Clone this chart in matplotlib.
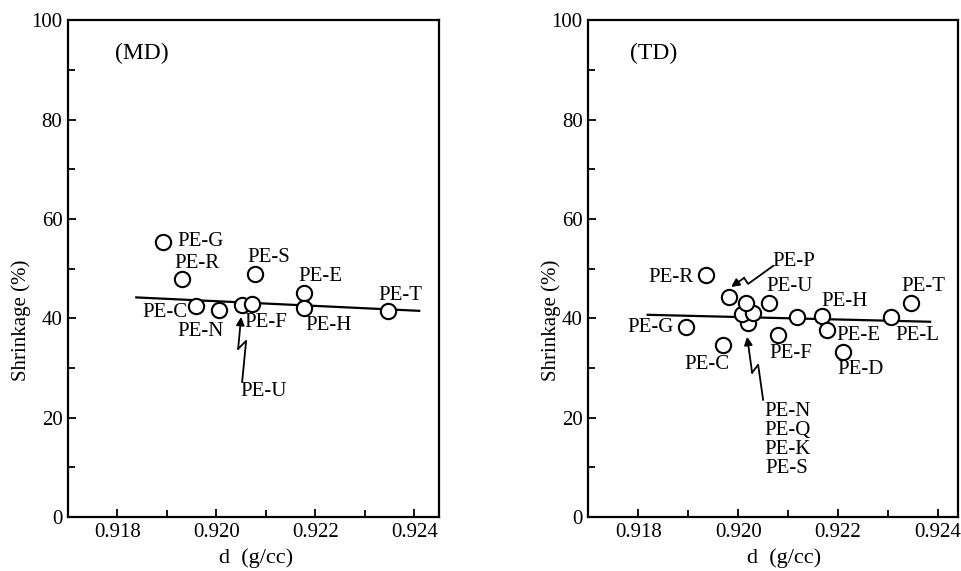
import matplotlib
matplotlib.use('Agg')
import matplotlib.pyplot as plt
import matplotlib.transforms as mtransforms
from matplotlib.ticker import MultipleLocator

plt.rcParams['font.family'] = ['Liberation Serif', 'DejaVu Serif']

# MD panel data
md_names = ['PE-G', 'PE-R', 'PE-C', 'PE-N', 'PE-U', 'PE-F', 'PE-S', 'PE-E', 'PE-H', 'PE-T']
md_d = [0.91893, 0.91931, 0.91959, 0.92005, 0.92052, 0.92072, 0.92079, 0.92178, 0.92178, 0.92346]
md_s = [55.4, 47.9, 42.5, 41.6, 42.7, 42.9, 48.9, 45.1, 42.1, 41.4]
md_fit_d = [0.91838, 0.9241]
md_fit_s = [44.2, 41.5]

# TD panel data
td_names = ['PE-R', 'PE-P', 'PE-G', 'PE-C', 'PE-N', 'PE-Q', 'PE-K', 'PE-S',
            'PE-U', 'PE-F', '', 'PE-H', 'PE-E', 'PE-D', 'PE-L', 'PE-T']
td_d = [0.91935, 0.91982, 0.91896, 0.91970, 0.92020, 0.92007, 0.92030, 0.92016,
        0.92061, 0.92080, 0.92118, 0.92167, 0.92177, 0.92210, 0.92306, 0.92346]
td_s = [48.7, 44.3, 38.2, 34.6, 39.1, 40.8, 41.1, 43.1,
        43.1, 36.6, 40.2, 40.4, 37.6, 33.3, 40.2, 43.0]
td_fit_d = [0.91819, 0.92384]
td_fit_s = [40.7, 39.3]

# label placement: offset in pixels (dx right, dy down), alignment
md_lab = {'PE-G': (14, 0, 'left'), 'PE-R': (-8, -16, 'left'), 'PE-C': (-9, 7, 'right'),
          'PE-N': (-18, 21, 'center'), 'PE-U': (21, 87, 'center'), 'PE-F': (-8, 19, 'left'),
          'PE-S': (-8, -17, 'left'), 'PE-E': (-6, -16, 'left'), 'PE-H': (1, 18, 'left'),
          'PE-T': (-9, -16, 'left')}
td_lab = {'PE-R': (-12, 2, 'right'), 'PE-P': (43, -35, 'left'), 'PE-G': (-12, 0, 'right'),
          'PE-C': (6, 19, 'right'), 'PE-N': (39, 117, 'center'), 'PE-U': (-2, -16, 'left'),
          'PE-F': (-9, 18, 'left'), 'PE-H': (0, -15, 'left'), 'PE-E': (10, 5, 'left'),
          'PE-D': (-6, 18, 'left'), 'PE-L': (4, 18, 'left'), 'PE-T': (-10, -17, 'left')}
td_stack = 'PE-N\nPE-Q\nPE-K\nPE-S'

fig = plt.figure(figsize=(9.61, 5.71), dpi=100)
ax1 = fig.add_axes([0.0708, 0.0946, 0.386, 0.870])
ax2 = fig.add_axes([0.612, 0.0946, 0.385, 0.870])


def bolt(ax, xd, yd, path):
    # zig-zag pointer drawn in pixel offsets around a data point
    tr = fig.dpi_scale_trans + mtransforms.ScaledTranslation(xd, yd, ax.transData)
    xs = [p[0] / 100 for p in path]
    ys = [-p[1] / 100 for p in path]
    ax.plot(xs[:-1], ys[:-1], color='black', lw=1.3, transform=tr, zorder=4)
    ax.annotate('', xy=(xs[-1], ys[-1]), xytext=(xs[-2], ys[-2]),
                xycoords=tr, textcoords=tr,
                arrowprops=dict(arrowstyle='-|>', color='black', lw=1.3,
                                mutation_scale=12, shrinkA=0, shrinkB=0))


def panel(ax, d, s, fit_d, fit_s, names, labs, tag, tag_x, xmax):
    ax.plot(fit_d, fit_s, color='black', lw=1.6, zorder=2)
    ax.plot(d, s, 'o', ms=11, mfc='white', mec='black', mew=1.5, zorder=3)
    for n, x, y in zip(names, d, s):
        if n not in labs:
            continue
        dx, dy, ha = labs[n]
        txt = td_stack if (labs is td_lab and n == 'PE-N') else n
        ax.annotate(txt, (x, y), xytext=(dx * 0.72, -dy * 0.72), textcoords='offset points',
                    ha=ha, va='center', fontsize=15, linespacing=1.0, zorder=5)
    ax.set_xlim(0.917, xmax)
    ax.set_ylim(0, 100)
    ax.xaxis.set_major_locator(MultipleLocator(0.002))
    ax.xaxis.set_minor_locator(MultipleLocator(0.001))
    ax.yaxis.set_major_locator(MultipleLocator(20))
    ax.yaxis.set_minor_locator(MultipleLocator(10))
    ax.set_xticks([0.918, 0.920, 0.922, 0.924])
    ax.set_xticklabels(['0.918', '0.920', '0.922', '0.924'])
    ax.tick_params(which='both', direction='in', top=False, right=False,
                   labelsize=15, width=1.3)
    ax.tick_params(which='major', length=6, pad=4)
    ax.tick_params(which='minor', length=5)
    for sp in ax.spines.values():
        sp.set_linewidth(1.6)
    ax.text(tag_x, 0.934, tag, transform=ax.transAxes, fontsize=17, va='center')
    ax.set_xlabel('d  (g/cc)', fontsize=16)
    ax.set_ylabel('Shrinkage (%)', fontsize=15)


panel(ax1, md_d, md_s, md_fit_d, md_fit_s, md_names, md_lab, '(MD)', 0.127, 0.9245)
panel(ax2, td_d, td_s, td_fit_d, td_fit_s, td_names, td_lab, '(TD)', 0.114, 0.9244)

ax1.xaxis.set_label_coords(0.508, -0.062)
ax2.xaxis.set_label_coords(0.53, -0.062)
ax1.yaxis.set_label_coords(-0.099, 0.395)
ax2.yaxis.set_label_coords(-0.073, 0.395)

# pointers
bolt(ax1, md_d[4], md_s[4], [(0, 77), (4, 36), (-4, 44), (-1, 12)])
bolt(ax2, td_d[1], td_s[1], [(44, -31), (19, -13), (15, -19), (2, -10)])
bolt(ax2, td_d[4], td_s[4], [(15, 77), (10, 42), (4, 50), (-1, 14)])

fig.savefig('out.png', dpi=100)
